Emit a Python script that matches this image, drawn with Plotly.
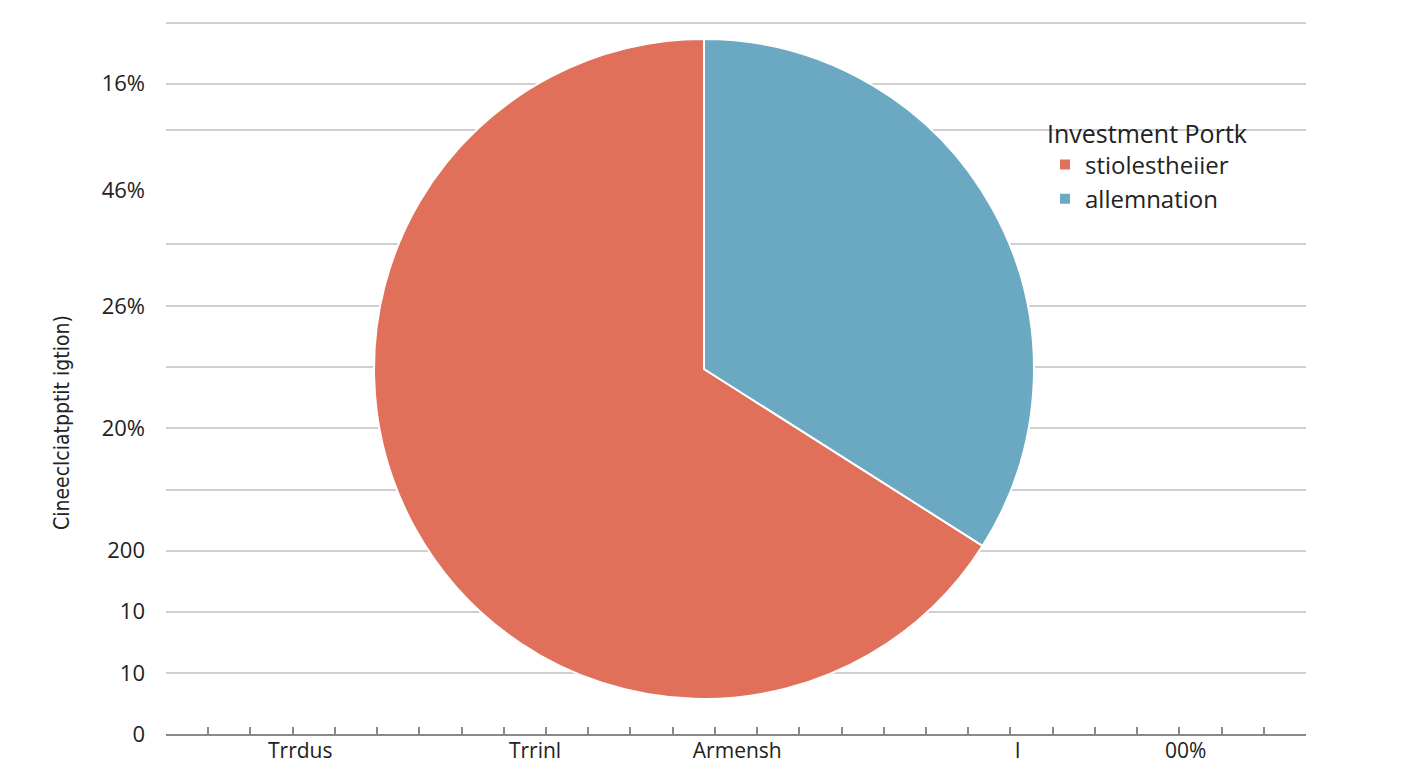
import plotly.graph_objects as go

# ---- data ----
slice_labels = ["stiolestheiier", "allemnation"]
slice_values = [66, 34]
slice_colors = ["#E1705B", "#6BA9C2"]
legend_title = "Investment Portk"

y_tick_vals = [0, 1, 2, 3, 5, 7, 8.89, 10.64]
y_tick_text = ["0", "10", "10", "200", "20%", "26%", "46%", "16%"]
y_grid_vals = [1, 2, 3, 4, 5, 6, 7, 8.02, 9.89, 10.64, 11.63]
y_title = "Cineeclciatpptit igtion)"

x_tick_vals = [3.18, 8.74, 13.53, 20.17, 24.15]
x_tick_text = ["Trrdus", "Trrinl", "Armensh", "I", "00%"]
x_minor_step = 1
x_range = [0, 27]
y_range = [0, 11.65]

W, H = 1408, 768
FONT = "Open Sans, Liberation Sans, Arial, sans-serif"
TXT = "#222222"
GRID = "#CFCFCF"
AXIS = "#8A8A8A"

xdom = [166 / W, 1306 / W]
ydom = [1 - 734 / H, 1 - 22 / H]

# the red slice is drawn first, clockwise, starting where the blue one ends
start_angle = 360 * slice_values[1] / sum(slice_values)

fig = go.Figure()

fig.add_trace(go.Pie(
    labels=slice_labels,
    values=slice_values,
    marker=dict(colors=slice_colors, line=dict(color="white", width=2)),
    sort=False,
    direction="clockwise",
    rotation=start_angle,
    textinfo="none",
    hoverinfo="label+percent",
    domain=dict(x=[374 / W, 1034 / W], y=[1 - 699 / H, 1 - 39 / H]),
    showlegend=True,
))

fig.update_layout(
    width=W, height=H,
    margin=dict(l=0, r=0, t=0, b=0, autoexpand=False),
    paper_bgcolor="white",
    plot_bgcolor="white",
    font=dict(family=FONT, color=TXT, size=22),
    yaxis=dict(domain=ydom, range=y_range, showgrid=False, zeroline=False,
               showline=False, tickmode="array", tickvals=y_tick_vals,
               ticktext=y_tick_text, ticks="", ticklabelstandoff=20,
               tickfont=dict(size=22, color=TXT), fixedrange=True, automargin=False),
    yaxis2=dict(overlaying="y", range=y_range, showgrid=True, gridcolor=GRID,
                gridwidth=1.5, zeroline=False, showline=False,
                tickmode="array", tickvals=y_grid_vals, showticklabels=False,
                ticks="", fixedrange=True, automargin=False),
    xaxis=dict(domain=xdom, range=x_range, showgrid=False, zeroline=False,
               showline=True, linecolor=AXIS, linewidth=2,
               tickmode="linear", tick0=0, dtick=x_minor_step,
               ticks="inside", ticklen=7, tickwidth=1.5, tickcolor=AXIS,
               showticklabels=False, anchor="y", fixedrange=True, automargin=False),
    xaxis3=dict(overlaying="x", range=x_range, showgrid=False, zeroline=False,
                showline=False, tickmode="array", tickvals=[x_range[0], x_range[1]],
                ticks="inside", ticklen=15, tickwidth=2, tickcolor=AXIS,
                showticklabels=False, anchor="y", side="bottom", fixedrange=True,
                automargin=False),
    xaxis2=dict(overlaying="x", range=x_range, showgrid=False, zeroline=False,
                showline=False, tickmode="array", tickvals=x_tick_vals,
                ticktext=x_tick_text, ticks="", ticklabelstandoff=2,
                tickfont=dict(size=21, color=TXT), anchor="y", side="bottom",
                fixedrange=True, automargin=False),
    legend=dict(
        x=1045 / W, y=1 - 110 / H, xanchor="left", yanchor="top",
        bgcolor="rgba(0,0,0,0)",
        title=dict(text=legend_title, font=dict(size=25, color=TXT)),
        font=dict(size=24, color=TXT),
    ),
    shapes=[dict(type="rect", xref="paper", yref="paper",
                 x0=983 / W, x1=1320 / W, y0=1 - 225 / H, y1=1 - 110 / H,
                 fillcolor="white", line=dict(width=0), layer="between")],
    annotations=[dict(text=y_title, xref="paper", yref="paper",
                      x=62 / W, y=1 - 423 / H, textangle=-90, showarrow=False,
                      font=dict(family="Liberation Sans Narrow, DejaVu Sans Condensed, Arial Narrow, sans-serif",
                                size=21, color=TXT),
                      xanchor="center", yanchor="middle")],
)

fig.add_trace(go.Scatter(x=[None], y=[None], xaxis="x2", yaxis="y2", showlegend=False, hoverinfo="skip"))
fig.add_trace(go.Scatter(x=[None], y=[None], xaxis="x3", yaxis="y", showlegend=False, hoverinfo="skip"))
fig.add_trace(go.Scatter(x=[None], y=[None], xaxis="x", yaxis="y", showlegend=False, hoverinfo="skip"))

fig.write_html("out.html",
               config={"displayModeBar": False},
               post_script="document.body.style.margin='0';document.body.style.overflow='hidden';")
